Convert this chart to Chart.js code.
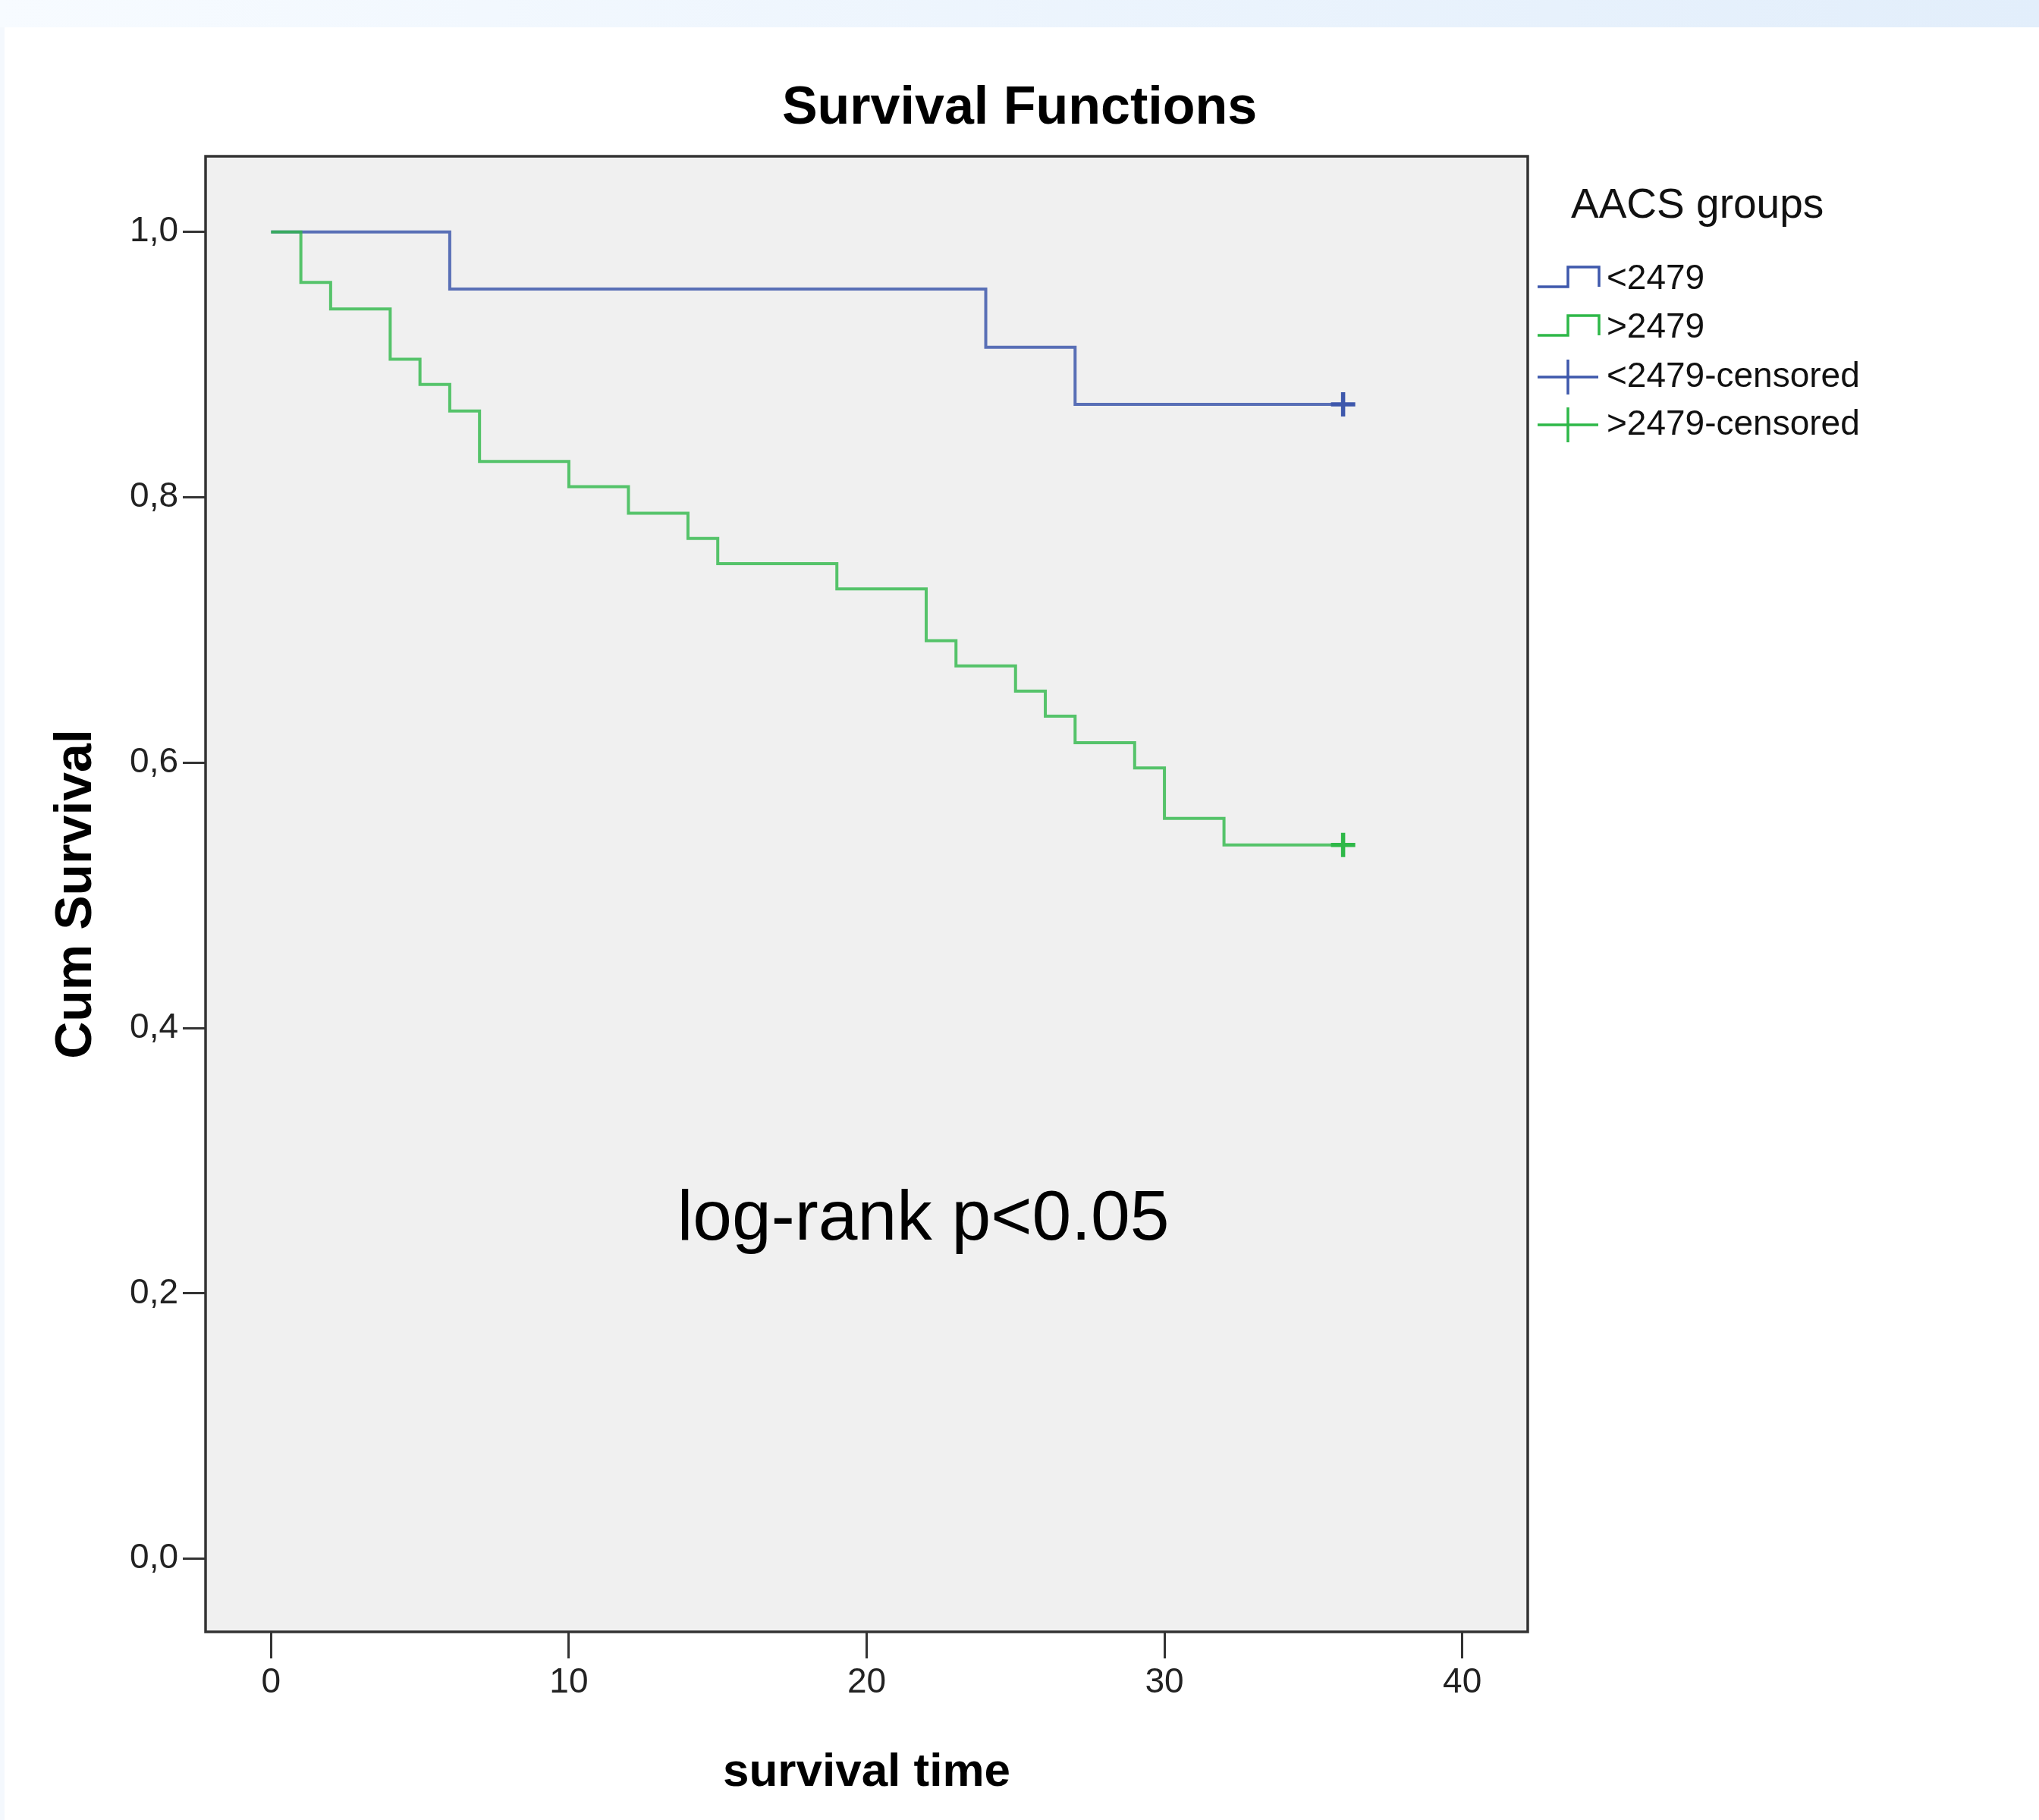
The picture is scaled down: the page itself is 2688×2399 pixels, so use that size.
<!DOCTYPE html>
<html>
<head>
<meta charset="utf-8">
<title>Survival Functions</title>
<script src="https://cdn.jsdelivr.net/npm/chart.js@4.4.0/dist/chart.umd.min.js"></script>
<style>
  html, body { margin: 0; padding: 0; }
  body { width: 2688px; height: 2399px; background: #fff; position: relative; overflow: hidden; }
  #topband { position: absolute; left: 0; top: 0; width: 2688px; height: 36px;
             background: linear-gradient(to right, #f7fbff, #e2eefb); }
  #leftband { position: absolute; left: 0; top: 36px; width: 6px; height: 2363px; background: #f4f8fd; }
  #wrap { position: absolute; left: 0; top: 0; width: 2688px; height: 2399px; }
</style>
</head>
<body>
<div id="topband"></div>
<div id="leftband"></div>
<div id="wrap"><canvas id="kmChart"></canvas></div>
<script>
// Kaplan-Meier curves, values

const FONT = "'Liberation Sans', Arial, sans-serif";

// group <2479
const lowTimes = [0, 6, 24, 27, 36];
const lowSurv = [1.0, 0.957, 0.913, 0.870, 0.870];
const lowCensorTimes = [36];
const lowCensorSurv = [0.870];

// group >2479
const highTimes = [0, 1, 2, 4, 5, 6, 7, 10, 12, 14, 15, 19, 22, 23, 25, 26, 27, 29, 30, 32, 36];
const highSurv = [1.0, 0.962, 0.942, 0.904, 0.885, 0.865, 0.827, 0.808, 0.788, 0.769, 0.750,
                  0.731, 0.692, 0.673, 0.654, 0.635, 0.615, 0.596, 0.558, 0.538, 0.538];
const highCensorTimes = [36];
const highCensorSurv = [0.538];

// axes
const xTickValues = [0, 10, 20, 30, 40];
const yTickValues = [0, 0.2, 0.4, 0.6, 0.8, 1.0];

const groupLabels = ['<2479', '>2479', '<2479-censored', '>2479-censored'];
const BLUE = '#3E58AC';
const GREEN = '#2EB848';

function toPoints(xs, ys) {
  return xs.map((x, i) => ({ x: x, y: ys[i] }));
}

// grey plot area with a dark frame
const plotFrame = {
  id: 'plotFrame',
  beforeDraw(chart) {
    const { ctx, chartArea: a } = chart;
    ctx.save();
    ctx.fillStyle = '#F0F0F0';
    ctx.fillRect(a.left, a.top, a.right - a.left, a.bottom - a.top);
    ctx.restore();
  },
  beforeDatasetsDraw(chart) {
    const { ctx, chartArea: a } = chart;
    ctx.save();
    ctx.strokeStyle = '#333';
    ctx.lineWidth = 3.5;
    ctx.strokeRect(a.left, a.top, a.right - a.left, a.bottom - a.top);
    ctx.restore();
  },
  afterDraw(chart) {
    // log-rank note inside the plot
    const { ctx, scales } = chart;
    ctx.save();
    ctx.fillStyle = '#000';
    ctx.font = '93px ' + FONT;
    ctx.textAlign = 'center';
    ctx.textBaseline = 'middle';
    ctx.fillText('log-rank p<0.05', scales.x.getPixelForValue(21.9), scales.y.getPixelForValue(0.255));
    ctx.restore();
  }
};

// SPSS-style legend box on the right
const sideLegend = {
  id: 'sideLegend',
  beforeInit(chart) {
    const box = {
      position: 'right', weight: 10, fullSize: false, options: {},
      width: 0, height: 0, left: 0, top: 0, right: 0, bottom: 0,
      isHorizontal() { return false; },
      update(maxWidth, maxHeight) { this.width = 674; this.height = maxHeight; },
      draw() {
        const ctx = chart.ctx;
        const x0 = this.left;
        ctx.save();
        ctx.fillStyle = '#111';
        ctx.textAlign = 'left';
        ctx.textBaseline = 'middle';
        ctx.font = '55px ' + FONT;
        ctx.fillText('AACS groups', x0 + 57, 272);

        const rows = [368, 432, 497, 560];
        const colors = [BLUE, GREEN, BLUE, GREEN];
        ctx.font = '46px ' + FONT;
        rows.forEach((y, i) => {
          ctx.strokeStyle = colors[i];
          ctx.lineWidth = 3.5;
          ctx.beginPath();
          if (i < 2) {
            ctx.moveTo(x0 + 13, y + 10);
            ctx.lineTo(x0 + 53, y + 10);
            ctx.lineTo(x0 + 53, y - 16);
            ctx.lineTo(x0 + 94, y - 16);
            ctx.lineTo(x0 + 94, y + 10);
          } else {
            ctx.moveTo(x0 + 13, y);
            ctx.lineTo(x0 + 93, y);
            ctx.moveTo(x0 + 53, y - 23);
            ctx.lineTo(x0 + 53, y + 23);
          }
          ctx.stroke();
          ctx.fillStyle = '#111';
          ctx.fillText(groupLabels[i], x0 + 104, y);
        });
        ctx.restore();
      }
    };
    Chart.layouts.addBox(chart, box);
  }
};

const stepStyle = {
  stepped: 'before',
  pointRadius: 0,
  borderWidth: 4,
  fill: false
};

const censorStyle = {
  showLine: false,
  pointStyle: 'cross',
  pointRadius: 16,
  pointBorderWidth: 5.5,
  pointHoverRadius: 16
};

const ctx = document.getElementById('kmChart').getContext('2d');
new Chart(ctx, {
  type: 'line',
  data: {
    datasets: [
      Object.assign({
        label: groupLabels[0],
        data: toPoints(lowTimes, lowSurv),
        borderColor: 'rgba(62,88,172,0.85)',
        order: 3
      }, stepStyle),
      Object.assign({
        label: groupLabels[1],
        data: toPoints(highTimes, highSurv),
        borderColor: 'rgba(46,184,72,0.8)',
        order: 2
      }, stepStyle),
      Object.assign({
        label: groupLabels[2],
        data: toPoints(lowCensorTimes, lowCensorSurv),
        borderColor: BLUE,
        pointBorderColor: BLUE,
        order: 1
      }, censorStyle),
      Object.assign({
        label: groupLabels[3],
        data: toPoints(highCensorTimes, highCensorSurv),
        borderColor: GREEN,
        pointBorderColor: GREEN,
        order: 0
      }, censorStyle)
    ]
  },
  options: {
    responsive: true,
    maintainAspectRatio: false,
    animation: false,
    events: [],
    layout: { padding: 0 },
    plugins: {
      legend: { display: false },
      tooltip: { enabled: false },
      title: {
        display: true,
        text: 'Survival Functions',
        color: '#000',
        font: { family: FONT, size: 70, weight: 'bold' },
        padding: { top: 102, bottom: 20 }
      }
    },
    scales: {
      x: {
        type: 'linear',
        min: -2.2,
        max: 42.2,
        afterBuildTicks: s => { s.ticks = xTickValues.map(v => ({ value: v })); },
        afterFit: s => { s.height = 248; },
        border: { display: false },
        grid: { drawOnChartArea: false, drawTicks: true, tickLength: 35, tickColor: '#333', tickWidth: 3 },
        ticks: {
          color: '#222',
          font: { family: FONT, size: 46 },
          padding: 5,
          autoSkip: false,
          maxRotation: 0
        },
        title: {
          display: true,
          text: 'survival time',
          color: '#000',
          font: { family: FONT, size: 62, weight: 'bold' },
          padding: { top: 0, bottom: 25 }
        }
      },
      y: {
        min: -0.055,
        max: 1.057,
        afterBuildTicks: s => { s.ticks = yTickValues.map(v => ({ value: v })); },
        afterFit: s => { s.width = 271; },
        border: { display: false },
        grid: { drawOnChartArea: false, drawTicks: true, tickLength: 30, tickColor: '#333', tickWidth: 3 },
        ticks: {
          color: '#222',
          font: { family: FONT, size: 46 },
          padding: 6,
          callback: v => v.toFixed(1).replace('.', ',')
        },
        title: {
          display: true,
          text: 'Cum Survival',
          color: '#000',
          font: { family: FONT, size: 68, weight: 'bold' },
          padding: { top: 60, bottom: 0 }
        }
      }
    }
  },
  plugins: [plotFrame, sideLegend]
});
</script>
</body>
</html>
